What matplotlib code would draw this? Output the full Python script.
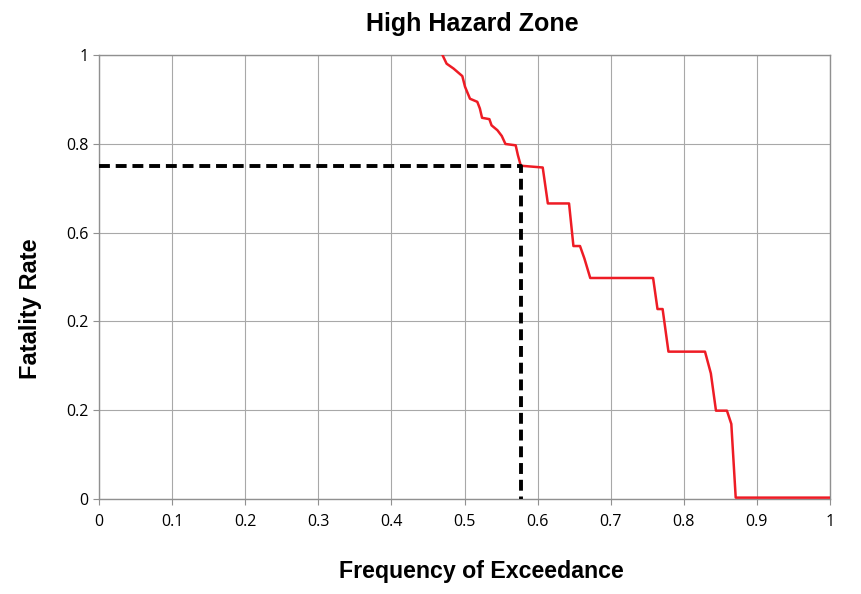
from matplotlib import pyplot as plt
import numpy as np

# curve
freq = [0.470, 0.4755, 0.485, 0.497, 0.5007, 0.5075, 0.5175, 0.521, 0.524, 0.534,
        0.537, 0.545, 0.551, 0.556, 0.570, 0.573, 0.577, 0.607, 0.614, 0.643,
        0.649, 0.658, 0.664, 0.672, 0.758, 0.764, 0.771, 0.779, 0.829, 0.837,
        0.844, 0.859, 0.865, 0.871, 1.0]
fatality = [1.0, 0.981, 0.970, 0.953, 0.929, 0.902, 0.895, 0.880, 0.859, 0.856,
            0.842, 0.831, 0.818, 0.800, 0.797, 0.775, 0.751, 0.747, 0.666, 0.666,
            0.570, 0.570, 0.542, 0.498, 0.498, 0.428, 0.428, 0.332, 0.332, 0.283,
            0.199, 0.199, 0.169, 0.003, 0.003]
marker_freq = 0.577
marker_rate = 0.75

xticks = [0, 0.1, 0.2, 0.3, 0.4, 0.5, 0.6, 0.7, 0.8, 0.9, 1]
xticklabels = ["0", "0.1", "0.2", "0.3", "0.4", "0.5", "0.6", "0.7", "0.8", "0.9", "1"]
yticks = [0, 0.2, 0.4, 0.6, 0.8, 1]
yticklabels = ["0", "0.2", "0.2", "0.6", "0.8", "1"]

plt.rcParams['font.family'] = ['Open Sans', 'DejaVu Sans']
bold_font = ["Liberation Sans", "DejaVu Sans"]
fig = plt.figure(figsize=(8.61, 5.94), dpi=100)
ax = fig.add_axes([0.115, 0.160, 0.849, 0.747])

ax.plot(freq, fatality, color="#ee1c25", linewidth=1.8, zorder=3)
ax.plot([0, marker_freq, marker_freq], [marker_rate, marker_rate, 0],
        color="black", linestyle=(0, (2.8, 1.5)), linewidth=2.8, zorder=4)

ax.set_xlim(0, 1)
ax.set_ylim(0, 1)
ax.set_xticks(xticks)
ax.set_xticklabels(xticklabels, fontsize=11.5)
ax.set_yticks(yticks)
ax.set_yticklabels(yticklabels, fontsize=11.5)
ax.grid(True, color="#a8a8a8", linewidth=0.8)
ax.set_axisbelow(True)
for s in ax.spines.values():
    s.set_color("#909090")
    s.set_linewidth(1)
ax.tick_params(direction="out", length=4.5, color="#909090", pad=3)
ax.tick_params(axis="x", pad=6)

fig.text(472.5 / 861, 1 - 31 / 594, "High Hazard Zone", fontsize=18,
         fontweight="bold", family=bold_font, ha="center", va="baseline")
fig.text(481.5 / 861, 1 - 578 / 594, "Frequency of Exceedance", fontsize=16.7,
         fontweight="bold", family=bold_font, ha="center", va="baseline")
fig.text(31 / 861, 1 - 309 / 594, "Fatality Rate", fontsize=17,
         fontweight="bold", family=bold_font, ha="center", va="center",
         rotation=90)

plt.savefig("out.png", dpi=100)
